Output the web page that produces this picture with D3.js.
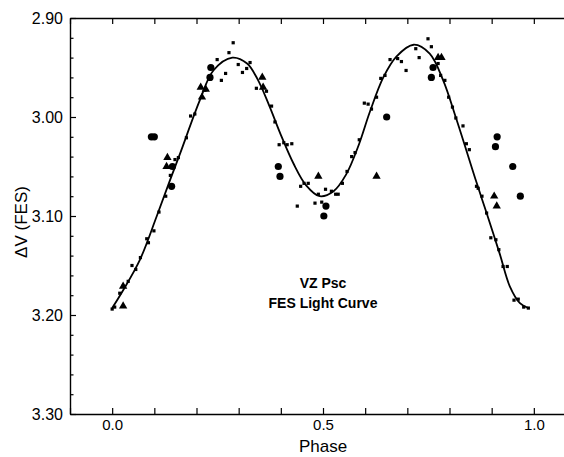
<!DOCTYPE html>
<html>
<head>
<meta charset="utf-8">
<script src="https://cdn.jsdelivr.net/npm/d3@7/dist/d3.min.js"></script>
<style>
  html, body { margin: 0; padding: 0; background: #fff; }
  svg { display: block; }
  text { font-family: "Liberation Sans", Arial, Helvetica, sans-serif; fill: #000; }
</style>
</head>
<body>
<svg id="chart" width="564" height="457"></svg>
<script>
// ---- data ----
const dotPhase = [0.000, 0.006, 0.018, 0.026, 0.038, 0.047, 0.056, 0.067, 0.082, 0.086, 0.099, 0.111, 0.127, 0.138, 0.149, 0.157, 0.176, 0.186, 0.196, 0.220, 0.249, 0.259, 0.269, 0.277, 0.287, 0.299, 0.309, 0.319, 0.327, 0.342, 0.366, 0.378, 0.386, 0.396, 0.407, 0.415, 0.426, 0.439, 0.447, 0.455, 0.465, 0.481, 0.489, 0.497, 0.506, 0.520, 0.530, 0.536, 0.546, 0.557, 0.568, 0.576, 0.586, 0.598, 0.607, 0.615, 0.627, 0.637, 0.647, 0.659, 0.677, 0.686, 0.697, 0.720, 0.728, 0.749, 0.757, 0.773, 0.779, 0.789, 0.798, 0.807, 0.815, 0.832, 0.840, 0.847, 0.864, 0.868, 0.877, 0.888, 0.898, 0.910, 0.917, 0.927, 0.937, 0.953, 0.963, 0.976, 0.987];
const dotV     = [3.194, 3.192, 3.178, 3.171, 3.166, 3.150, 3.154, 3.142, 3.123, 3.127, 3.115, 3.096, 3.080, 3.059, 3.043, 3.041, 3.021, 2.999, 2.997, 2.973, 2.942, 2.963, 2.956, 2.935, 2.925, 2.947, 2.955, 2.951, 2.945, 2.971, 2.974, 2.989, 3.005, 3.028, 3.026, 3.028, 3.027, 3.090, 3.070, 3.067, 3.067, 3.087, 3.078, 3.086, 3.073, 3.075, 3.078, 3.078, 3.067, 3.055, 3.040, 3.036, 3.023, 2.986, 2.987, 2.992, 2.980, 2.961, 2.958, 2.942, 2.941, 2.944, 2.953, 2.931, 2.940, 2.921, 2.929, 2.946, 2.958, 2.963, 2.980, 2.990, 3.001, 3.009, 3.027, 3.033, 3.070, 3.072, 3.080, 3.097, 3.122, 3.124, 3.134, 3.151, 3.151, 3.185, 3.184, 3.192, 3.193];

const circlePhase = [0.093, 0.100, 0.141, 0.143, 0.232, 0.234, 0.394, 0.398, 0.502, 0.507, 0.651, 0.757, 0.761, 0.909, 0.913, 0.950, 0.968];
const circleV     = [3.020, 3.020, 3.070, 3.050, 2.960, 2.950, 3.050, 3.060, 3.100, 3.090, 3.000, 2.960, 2.950, 3.030, 3.020, 3.050, 3.080];

const trianglePhase = [0.026, 0.026, 0.129, 0.131, 0.210, 0.213, 0.222, 0.356, 0.358, 0.489, 0.627, 0.773, 0.781, 0.906, 0.912];
const triangleV     = [3.171, 3.191, 3.050, 3.041, 2.970, 2.980, 2.972, 2.960, 2.970, 3.060, 3.060, 2.940, 2.940, 3.080, 3.090];

// fitted light curve
const curvePhase = [0.000, 0.026, 0.066, 0.105, 0.137, 0.161, 0.208, 0.240, 0.285, 0.320, 0.345, 0.372, 0.400, 0.430, 0.460, 0.492, 0.525, 0.555, 0.585, 0.611, 0.643, 0.674, 0.715, 0.753, 0.785, 0.817, 0.864, 0.888, 0.919, 0.943, 0.967, 0.987];
const curveV     = [3.193, 3.175, 3.144, 3.101, 3.064, 3.037, 2.983, 2.953, 2.940, 2.946, 2.962, 2.988, 3.018, 3.047, 3.069, 3.080, 3.075, 3.058, 3.028, 2.995, 2.960, 2.939, 2.927, 2.936, 2.963, 3.003, 3.066, 3.097, 3.138, 3.171, 3.188, 3.193];

const xTickValues = [-0.1, 0.0, 0.1, 0.2, 0.3, 0.4, 0.5, 0.6, 0.7, 0.8, 0.9, 1.0, 1.1];
const xTickLabels = [0.0, 0.5, 1.0];
const yTickLabels = [2.90, 3.00, 3.10, 3.20, 3.30];
const yMinorTicks = [2.92, 2.94, 2.96, 2.98, 3.02, 3.04, 3.06, 3.08, 3.12, 3.14, 3.16, 3.18, 3.22, 3.24, 3.26, 3.28];

const titleLines = ["VZ Psc", "FES Light Curve"];
const xTitle = "Phase";
const yTitle = "\u0394V (FES)";

// ---- drawing ----
const svg = d3.select("#chart");
const x = d3.scaleLinear().domain([-0.1, 1.1]).range([70, 576]);
const y = d3.scaleLinear().domain([2.90, 3.30]).range([18, 414]);

const axisStroke = 1.4;

// bottom ticks (inward)
svg.append("g").attr("transform", `translate(0,${y(3.30)})`)
  .call(d3.axisBottom(x).tickValues(xTickValues).tickSizeInner(-6).tickSizeOuter(0).tickFormat(""));
// bottom labels
const gBL = svg.append("g").attr("transform", `translate(0,${y(3.30)})`)
  .call(d3.axisBottom(x).tickValues(xTickLabels).tickSize(0).tickPadding(5).tickFormat(d3.format(".1f")));
gBL.select(".domain").remove();
gBL.selectAll("text").attr("font-size", 15);

// top ticks (inward)
svg.append("g").attr("transform", `translate(0,${y(2.90)})`)
  .call(d3.axisTop(x).tickValues(xTickValues).tickSizeInner(-6).tickSizeOuter(0).tickFormat(""));

// left major ticks + labels
const gL = svg.append("g").attr("transform", `translate(${x(-0.1)},0)`)
  .call(d3.axisLeft(y).tickValues(yTickLabels).tickSizeInner(-6).tickSizeOuter(0).tickPadding(7).tickFormat(d3.format(".2f")));
gL.selectAll("text").attr("font-size", 16);
// left minor ticks
const gLm = svg.append("g").attr("transform", `translate(${x(-0.1)},0)`)
  .call(d3.axisLeft(y).tickValues(yMinorTicks).tickSizeInner(-3.5).tickSizeOuter(0).tickFormat(""));
gLm.select(".domain").remove();

svg.selectAll(".domain").attr("stroke", "#000").attr("stroke-width", axisStroke);
svg.selectAll(".tick line").attr("stroke", "#000").attr("stroke-width", 1.2);

// axis titles
svg.append("text").attr("x", x(0.5)).attr("y", 452).attr("text-anchor", "middle")
  .attr("font-size", 17).text(xTitle);
svg.append("text").attr("transform", `translate(27,222) rotate(-90)`).attr("text-anchor", "middle")
  .attr("font-size", 17).text(yTitle);

// curve
const curveData = curvePhase.map((p, i) => [p, curveV[i]]);
svg.append("path").datum(curveData)
  .attr("fill", "none").attr("stroke", "#000").attr("stroke-width", 1.8)
  .attr("d", d3.line().x(d => x(d[0])).y(d => y(d[1])).curve(d3.curveCatmullRom.alpha(0.5)));

// small squares
svg.append("g").selectAll("rect").data(dotPhase.map((p, i) => [p, dotV[i]])).join("rect")
  .attr("x", d => x(d[0]) - 1.6).attr("y", d => y(d[1]) - 1.6)
  .attr("width", 3.2).attr("height", 3.2).attr("fill", "#000");

// circles
svg.append("g").selectAll("circle").data(circlePhase.map((p, i) => [p, circleV[i]])).join("circle")
  .attr("cx", d => x(d[0])).attr("cy", d => y(d[1])).attr("r", 3.6).attr("fill", "#000");

// triangles
const tri = d3.symbol().type(d3.symbolTriangle).size(30);
svg.append("g").selectAll("path").data(trianglePhase.map((p, i) => [p, triangleV[i]])).join("path")
  .attr("transform", d => `translate(${x(d[0])},${y(d[1])})`).attr("d", tri).attr("fill", "#000");

// in-plot title
svg.append("g").selectAll("text").data(titleLines).join("text")
  .attr("x", x(0.5)).attr("y", (d, i) => 288 + i * 20).attr("text-anchor", "middle")
  .attr("font-size", 14).attr("font-weight", "bold").text(d => d);
</script>
</body>
</html>
